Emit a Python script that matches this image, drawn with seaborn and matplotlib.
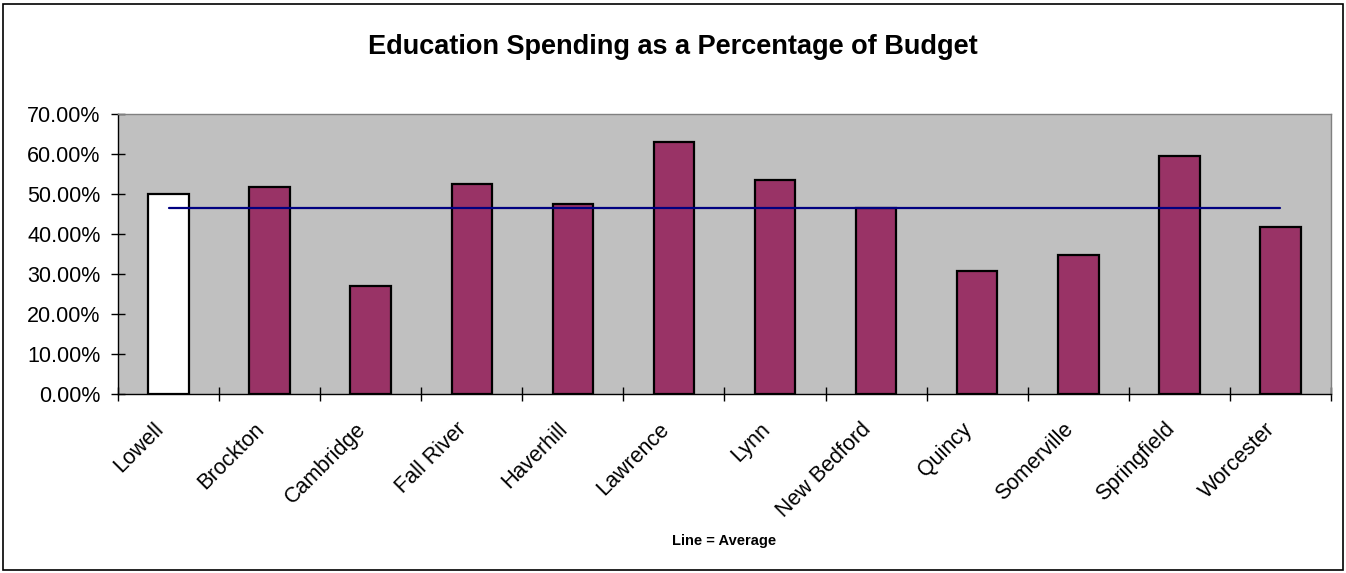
import numpy as np
import pandas as pd
import matplotlib
matplotlib.use("Agg")
import matplotlib.pyplot as plt
from matplotlib.patches import Rectangle
from matplotlib.ticker import FuncFormatter, FixedLocator
from matplotlib.transforms import ScaledTranslation
import seaborn as sns

# Education share of each city's budget (fraction of total)
cities = ["Lowell", "Brockton", "Cambridge", "Fall River", "Haverhill", "Lawrence",
          "Lynn", "New Bedford", "Quincy", "Somerville", "Springfield", "Worcester"]
shares = [0.500, 0.518, 0.270, 0.526, 0.474, 0.631,
          0.535, 0.466, 0.308, 0.348, 0.596, 0.418]
highlight_city = "Lowell"

sns.set_theme(style="white")
plt.rcParams["font.family"] = ["Liberation Sans", "DejaVu Sans"]
plt.rcParams["text.color"] = "black"
plt.rcParams["xtick.color"] = "black"
plt.rcParams["ytick.color"] = "black"

df = pd.DataFrame({"city": cities, "share": shares})
palette = {c: ("#FFFFFF" if c == highlight_city else "#993366") for c in cities}
average = float(np.mean(shares))

fig = plt.figure(figsize=(13.46, 5.73), dpi=100)
ax = fig.add_axes([118 / 1346, 1 - 394 / 573, (1331 - 118) / 1346, (394 - 114) / 573])
ax.set_facecolor("#C0C0C0")

sns.barplot(data=df, x="city", y="share", hue="city", palette=palette, legend=False,
            saturation=1, width=0.4, edgecolor="black", linewidth=1.6, ax=ax, zorder=2)

# Average line spanning first to last category
ax.plot([0, len(cities) - 1], [average, average], color="#000080", lw=1.6, zorder=3)

ax.set_xlim(-0.5, len(cities) - 0.5)
ax.set_ylim(0, 0.70)
ax.set_yticks(np.arange(0, 0.701, 0.10))
ax.yaxis.set_major_formatter(FuncFormatter(lambda v, p: f"{v * 100:.2f}%"))
ax.tick_params(axis="y", direction="inout", length=10, width=1, color="black",
               labelsize=15.5, labelcolor="black", pad=7.5, left=True)

ax.set_xticks(range(len(cities)))
ax.set_xticklabels(cities, rotation=45, ha="right", va="center",
                   rotation_mode="anchor", fontsize=15.5, color="black")
ax.tick_params(axis="x", which="major", length=0, pad=23)
shift = ScaledTranslation(-8 / 100, 0, fig.dpi_scale_trans)
for lbl in ax.get_xticklabels():
    lbl.set_transform(lbl.get_transform() + shift)
ax.xaxis.set_minor_locator(FixedLocator(np.arange(-0.5, len(cities), 1.0)))
ax.tick_params(axis="x", which="minor", direction="inout", length=10, width=1,
               color="black", bottom=True)

ax.set_xlabel("")
ax.set_ylabel("")
for side in ("top", "right"):
    ax.spines[side].set_color("#808080")
    ax.spines[side].set_linewidth(1)
for side in ("left", "bottom"):
    ax.spines[side].set_color("black")
    ax.spines[side].set_linewidth(1)

fig.text(673 / 1346, 1 - 47 / 573, "Education Spending as a Percentage of Budget",
         ha="center", va="center", fontsize=19.5, fontweight="bold", color="black")
fig.text(724 / 1346, 1 - 541 / 573, "Line = Average",
         ha="center", va="center", fontsize=10.5, fontweight="bold", color="black")

fig.patches.append(Rectangle((3 / 1346, 3 / 573), 1 - 6 / 1346, 1 - 7 / 573,
                             transform=fig.transFigure, fill=False,
                             edgecolor="black", linewidth=1.2))

fig.savefig("out.png", dpi=100, facecolor="white")
